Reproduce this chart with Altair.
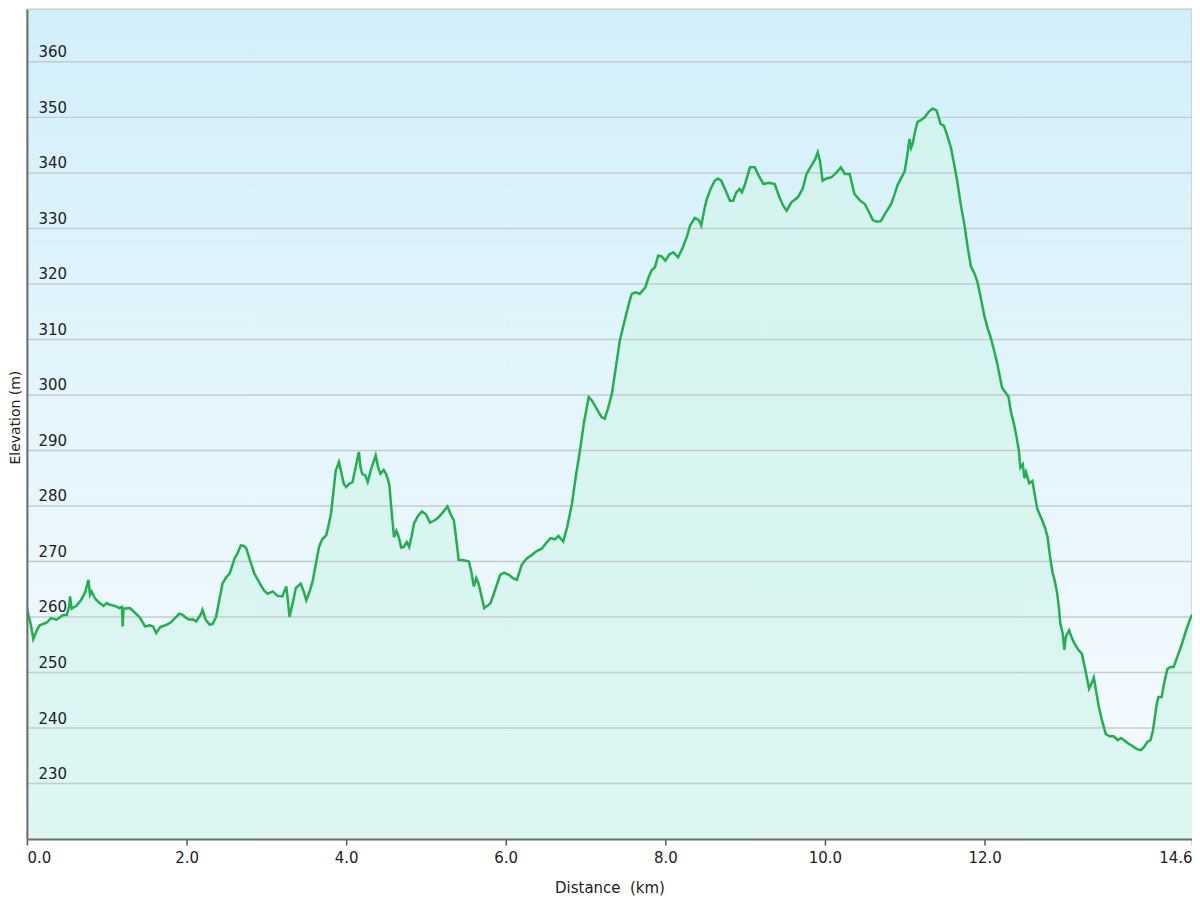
import altair as alt
import pandas as pd

km = [0.00,0.05,0.08,0.12,0.16,0.25,0.30,0.37,0.45,0.50,0.53,0.54,0.56,0.62,0.68,0.73,0.77,0.79,0.81,0.86,
      0.91,0.96,1.00,1.04,1.10,1.16,1.19,1.20,1.21,1.29,1.35,1.41,1.48,1.54,1.58,1.62,1.67,1.75,1.80,1.87,
      1.91,1.95,2.00,2.04,2.08,2.12,2.18,2.20,2.24,2.29,2.33,2.37,2.41,2.45,2.50,2.54,2.58,2.60,2.64,2.68,
      2.72,2.75,2.80,2.85,2.90,2.97,3.02,3.08,3.14,3.20,3.25,3.27,3.29,3.33,3.37,3.43,3.47,3.50,3.54,3.58,
      3.62,3.66,3.70,3.75,3.78,3.81,3.84,3.87,3.91,3.94,3.97,4.00,4.04,4.08,4.12,4.16,4.18,4.20,4.24,4.27,
      4.31,4.37,4.40,4.43,4.47,4.50,4.54,4.57,4.60,4.63,4.66,4.69,4.72,4.76,4.79,4.82,4.85,4.90,4.95,5.00,
      5.05,5.08,5.12,5.16,5.22,5.27,5.31,5.35,5.38,5.41,5.47,5.54,5.57,5.60,5.63,5.66,5.70,5.73,5.77,5.81,
      5.87,5.93,5.98,6.04,6.09,6.14,6.20,6.26,6.33,6.38,6.45,6.50,6.56,6.62,6.66,6.72,6.77,6.83,6.88,6.93,
      6.98,7.04,7.08,7.14,7.20,7.24,7.28,7.33,7.38,7.43,7.50,7.55,7.58,7.63,7.68,7.75,7.79,7.83,7.87,7.91,
      7.95,8.00,8.05,8.10,8.16,8.22,8.27,8.31,8.37,8.42,8.45,8.49,8.52,8.57,8.62,8.66,8.70,8.75,8.81,8.85,
      8.89,8.93,8.96,9.00,9.06,9.12,9.17,9.23,9.30,9.37,9.43,9.48,9.52,9.58,9.66,9.72,9.77,9.83,9.88,9.91,
      9.94,9.97,10.02,10.08,10.14,10.20,10.25,10.31,10.37,10.44,10.50,10.55,10.60,10.65,10.70,10.76,10.83,10.87,10.91,10.96,
      11.00,11.03,11.06,11.08,11.10,11.13,11.16,11.20,11.25,11.30,11.35,11.40,11.45,11.49,11.52,11.58,11.62,11.66,11.70,11.75,
      11.79,11.83,11.87,11.91,11.96,12.00,12.04,12.08,12.12,12.16,12.22,12.26,12.30,12.33,12.37,12.40,12.43,12.45,12.48,12.50,
      12.52,12.56,12.60,12.63,12.66,12.69,12.72,12.76,12.79,12.82,12.85,12.88,12.91,12.93,12.95,12.98,13.00,13.02,13.06,13.10,
      13.14,13.18,13.22,13.27,13.31,13.34,13.37,13.40,13.43,13.47,13.52,13.57,13.62,13.67,13.71,13.75,13.80,13.85,13.91,13.96,
      14.00,14.04,14.08,14.11,14.14,14.16,14.18,14.22,14.25,14.29,14.33,14.37,14.43,14.47,14.52,14.56,14.60]

elev = [261.5,258.5,256.0,257.5,258.5,259.0,259.8,259.5,260.3,260.4,262.0,263.7,261.5,262.0,263.1,264.5,266.7,264.0,264.6,263.2,
        262.5,262.0,262.5,262.2,262.0,261.6,261.8,258.3,261.5,261.6,260.8,260.0,258.3,258.5,258.3,257.1,258.2,258.6,259.0,260.0,
        260.6,260.4,259.8,259.5,259.6,259.2,260.5,261.3,259.5,258.6,258.8,260.0,263.0,266.0,267.2,267.8,269.5,270.5,271.5,272.9,
        272.8,272.3,270.0,267.8,266.5,264.8,264.2,264.6,263.8,263.7,265.5,263.0,260.0,262.5,265.2,266.0,264.5,263.0,264.5,266.4,
        269.5,272.6,274.0,274.7,276.5,278.6,282.5,286.4,287.9,286.0,284.0,283.4,284.0,284.3,287.0,289.7,287.0,285.8,285.5,284.3,
        286.5,289.1,287.0,285.8,286.5,285.8,284.0,279.0,274.4,275.5,274.4,272.5,272.6,273.5,272.6,274.5,276.8,278.2,279.0,278.5,
        277.0,277.2,277.5,278.0,279.0,279.9,278.5,277.4,274.0,270.3,270.2,270.0,268.0,265.5,267.0,266.0,263.5,261.6,262.0,262.5,
        265.0,267.6,268.0,267.6,267.0,266.7,269.4,270.5,271.2,271.8,272.3,273.2,274.2,274.0,274.6,273.6,276.2,280.4,285.5,290.0,
        295.0,299.6,299.0,297.5,296.0,295.7,297.5,300.2,305.0,309.8,314.0,316.8,318.2,318.5,318.2,319.4,321.2,322.5,323.0,325.1,
        325.0,324.2,325.3,325.7,324.8,326.6,328.5,330.5,331.9,331.5,330.5,333.5,335.3,337.2,338.6,339.0,338.6,337.0,335.0,335.0,
        336.5,337.1,336.5,338.0,341.0,341.0,339.5,338.0,338.2,338.0,335.6,334.0,333.2,334.7,335.6,337.1,339.8,341.3,342.5,343.7,
        342.0,338.6,339.0,339.2,340.0,341.0,339.8,339.8,336.2,335.0,334.4,333.0,331.5,331.2,331.3,332.8,334.4,336.0,337.8,339.2,
        340.3,343.0,346.1,344.5,345.3,347.5,349.2,349.5,350.0,351.0,351.6,351.2,348.8,348.5,347.3,344.5,341.5,338.3,334.5,330.5,
        326.5,323.1,322.0,320.4,317.0,314.1,312.0,310.2,308.0,305.6,301.3,300.5,299.7,297.0,294.7,292.5,290.0,286.9,287.5,285.0,
        286.1,284.1,284.5,282.0,279.5,278.5,277.5,276.0,274.4,271.0,268.2,266.5,264.3,262.0,258.8,257.0,254.1,256.5,257.6,256.0,
        254.9,254.0,253.4,250.0,247.1,248.0,249.1,246.5,244.0,241.5,238.9,238.5,238.5,237.8,238.2,237.8,237.2,236.8,236.2,236.0,
        236.6,237.5,237.8,239.5,242.5,244.5,245.6,245.6,248.0,250.6,251.0,251.0,253.4,255.0,257.3,259.0,260.4]

y_ticks = [230, 240, 250, 260, 270, 280, 290, 300, 310, 320, 330, 340, 350, 360]
x_ticks = [0, 2, 4, 6, 8, 10, 12, 14.6]

W, H = 1168, 832
FONT = "DejaVu Sans"

df = pd.DataFrame({"km": km, "elev": elev})
grid_df = pd.DataFrame({"g": y_ticks})
one = pd.DataFrame({"a": [0]})

xs = alt.Scale(domain=[0, 14.6], nice=False, zero=False)
ys = alt.Scale(domain=[220, 369.5], nice=False, zero=False)

bg = alt.Chart(one).mark_rect(
    fill=alt.Gradient(gradient="linear", x1=0, x2=0, y1=0, y2=1,
                      stops=[alt.GradientStop(color="#d2eff9", offset=0),
                             alt.GradientStop(color="#f7fbff", offset=1)]),
    stroke="#cccccc", strokeWidth=1.5
).encode(x=alt.value(0), x2=alt.value(W), y=alt.value(0), y2=alt.value(H))

area = alt.Chart(df).mark_area(
    fill=alt.Gradient(gradient="linear", x1=0, x2=0, y1=0, y2=1,
                      stops=[alt.GradientStop(color="#d3f3ef", offset=0),
                             alt.GradientStop(color="#eefcf4", offset=1)]),
    clip=True
).encode(
    x=alt.X("km:Q", scale=xs,
            axis=alt.Axis(values=x_ticks, format=".1f", grid=False, title="Distance\u00a0 (km)",
                          labelFlush=True, labelFont=FONT, labelFontSize=15, labelColor="#222",
                          titleFont=FONT, titleFontSize=15, titleFontWeight="normal", titleColor="#222",
                          domainColor="#6e6e6e", domainWidth=2, tickColor="#555", tickWidth=1.5,
                          tickSize=6, labelPadding=6, titlePadding=15, zindex=1)),
    y=alt.Y("elev:Q", scale=ys,
            axis=alt.Axis(values=y_ticks, grid=False, ticks=False, tickSize=0, labelAlign="left",
                          labelPadding=-11, labelBaseline="alphabetic", labelOffset=-5,
                          labelFont=FONT, labelFontSize=15, labelColor="#222",
                          title="Elevation (m)", titleFont=FONT, titleFontSize=14,
                          titleFontWeight="normal", titleColor="#222", titleAngle=-90,
                          titleX=-11, titleY=409, titleAlign="center", titleBaseline="middle",
                          domainColor="#6e6e6e", domainWidth=2, zindex=1))
)

grid = alt.Chart(grid_df).mark_rule(color="#c3ccd0", strokeWidth=1.5).encode(
    y=alt.Y("g:Q", scale=ys), x=alt.value(0), x2=alt.value(W)
)

line = alt.Chart(df).mark_line(color="#22b04e", strokeWidth=2.5, clip=True).encode(
    x=alt.X("km:Q", scale=xs), y=alt.Y("elev:Q", scale=ys)
)

chart = alt.layer(bg, area, grid, line).properties(
    width=W, height=H,
    autosize=alt.AutoSizeParams(type="none"),
    padding={"left": 19, "top": 0, "right": 0, "bottom": 60}
).configure_view(stroke=None)

chart.save("out.html", embed_options={"renderer": "svg", "actions": False})
